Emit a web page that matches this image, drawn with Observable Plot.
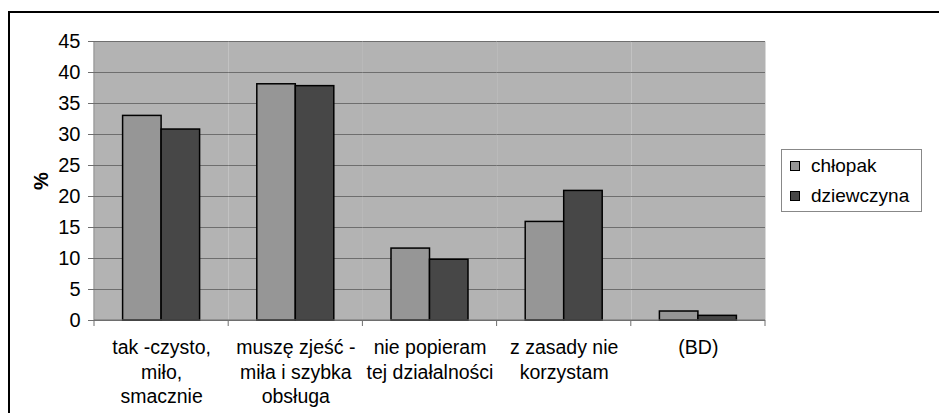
<!DOCTYPE html>
<html>
<head>
<meta charset="utf-8">
<script src="https://cdn.jsdelivr.net/npm/d3@7"></script>
<script src="https://cdn.jsdelivr.net/npm/@observablehq/plot@0.6"></script>
<style>
  body { margin: 0; background: #fff; }
  #wrap { position: relative; width: 939px; height: 413px; overflow: hidden; font-family: "Liberation Sans", Arial, sans-serif; }
  #frame { position: absolute; left: 8px; top: 11px; width: 1000px; height: 1000px; border-top: 2px solid #000; border-left: 2px solid #000; box-sizing: border-box; }
  #legend { position: absolute; left: 781px; top: 149px; width: 141px; height: 63px; border: 1px solid #888; box-sizing: border-box; background: #fff; font-size: 19px; }
  .item { position: absolute; left: 8px; height: 22px; line-height: 22px; white-space: nowrap; }
  .sw { display: inline-block; width: 8px; height: 8px; border: 1px solid #000; margin-right: 11px; vertical-align: middle; position: relative; top: -1px; }
  #chart { position: absolute; left: 0; top: 0; }
</style>
</head>
<body>
<div id="wrap">
  <div id="frame"></div>
  <div id="chart"></div>
  <div id="legend"></div>
</div>
<script>
const categories = ["tak -czysto,\nmiło,\nsmacznie", "muszę zjeść -\nmiła i szybka\nobsługa", "nie popieram\ntej działalności", "z zasady nie\nkorzystam", "(BD)"];
const series = ["chłopak", "dziewczyna"];
const chlopak = [33.0, 38.1, 11.6, 15.9, 1.45];
const dziewczyna = [30.8, 37.8, 9.8, 20.9, 0.75];
const yTicks = [0, 5, 10, 15, 20, 25, 30, 35, 40, 45];
const seriesColors = ["#969696", "#474747"];

const data = categories.flatMap((c, i) => [
  {category: c, series: series[0], value: chlopak[i]},
  {category: c, series: series[1], value: dziewczyna[i]}
]);

const gridColor = "#6e6e6e";

const plot = Plot.plot({
  width: 939,
  height: 413,
  marginLeft: 94,
  marginRight: 174,
  marginTop: 41,
  marginBottom: 93,
  style: {fontFamily: "'Liberation Sans', Arial, sans-serif", fontSize: "20px", color: "#000", background: "transparent", overflow: "visible"},
  fx: {domain: categories, paddingInner: 0, paddingOuter: 0, round: false},
  x: {domain: series, paddingInner: 0, paddingOuter: 0.743, round: false, axis: null},
  y: {domain: [0, 45]},
  color: {domain: series, range: seriesColors},
  marks: [
    Plot.frame({fill: "#b3b3b3", stroke: null}),
    Plot.ruleY(yTicks, {stroke: gridColor, strokeWidth: 1}),
    Plot.barY(data, {fx: "category", x: "series", y: "value", fill: "series", stroke: "#000", strokeWidth: 1.5}),
    Plot.axisFx({anchor: "bottom", tickSize: 0, tickPadding: 16, lineHeight: 1.26, fontSize: 19.5, label: null}),
    Plot.axisY({ticks: yTicks, tickSize: 6, tickPadding: 8, fontSize: 20, stroke: gridColor, label: "%", labelAnchor: "center", labelArrow: "none", labelOffset: 61})
  ]
});

document.getElementById("chart").appendChild(plot);

// axis lines and category separator ticks, positioned with the plot's fx / y scales
const fx = plot.scale("fx");
const y = plot.scale("y");
const svg = d3.select(plot);
const y0 = y.apply(0), yTop = y.apply(45);
const x0 = fx.apply(categories[0]);
const bw = fx.bandwidth;
const g = svg.append("g").attr("stroke", gridColor).attr("stroke-width", 1);
g.append("line").attr("x1", x0).attr("x2", x0).attr("y1", yTop).attr("y2", y0);
const xEnd = fx.apply(categories[categories.length - 1]) + bw;
g.append("line").attr("x1", x0).attr("x2", xEnd).attr("y1", y0).attr("y2", y0);
categories.forEach((c, i) => {
  const xb = fx.apply(c);
  g.append("line").attr("x1", xb).attr("x2", xb).attr("y1", y0).attr("y2", y0 + 6);
});
g.append("line").attr("x1", xEnd).attr("x2", xEnd).attr("y1", y0).attr("y2", y0 + 6);
svg.select("g[aria-label='y-axis label'] text").style("font-weight", "bold").style("font-size", "20px");

// legend
const legend = document.getElementById("legend");
series.forEach((s, i) => {
  const it = document.createElement("div");
  it.className = "item";
  it.style.top = (5 + i * 30) + "px";
  it.innerHTML = `<span class="sw" style="background:${seriesColors[i]}"></span>${s}`;
  legend.appendChild(it);
});
</script>
</body>
</html>
